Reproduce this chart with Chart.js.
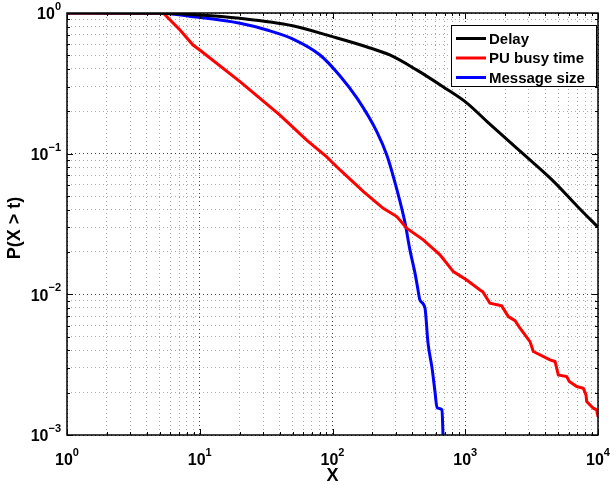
<!DOCTYPE html>
<html>
<head>
<meta charset="utf-8">
<script src="https://cdn.jsdelivr.net/npm/chart.js@4.4.1/dist/chart.umd.min.js"></script>
<style>
  body { margin: 0; background: #fff; }
  #wrap { width: 610px; height: 485px; }
</style>
</head>
<body>
<div id="wrap"><canvas id="chart"></canvas></div>
<script>
// series names
const seriesNames = ["Delay", "PU busy time", "Message size"];

// Delay CCDF
const delayX = [1, 5, 10, 20, 50, 100, 180, 270, 430, 680, 1030, 1460, 1924, 3074, 4584, 6950, 10000];
const delayY = [1, 0.995, 0.968, 0.917, 0.812, 0.679, 0.576, 0.503, 0.394, 0.299, 0.229, 0.169, 0.1336, 0.0902, 0.064, 0.0425, 0.030];

// PU busy time CCDF
const busyX = [1, 5.3, 7.1, 8.9, 10, 20.1, 40.2, 63.9, 90, 114, 171, 241, 305, 362, 483, 645, 813, 1026, 1291, 1353, 1535, 1882, 2110, 2371, 2585, 3074, 3256, 4350, 4745, 5025, 5808, 6080, 6915, 7750, 8120, 8220, 9220, 9770, 10000];
const busyY = [1, 1, 0.757, 0.592, 0.546, 0.325, 0.188, 0.125, 0.0952, 0.0766, 0.0537, 0.0409, 0.0357, 0.0295, 0.0244, 0.0191, 0.0145, 0.01265, 0.01074, 0.01045, 0.00865, 0.00828, 0.00695, 0.0065, 0.00574, 0.00461, 0.00392, 0.00342, 0.00333, 0.00267, 0.0026, 0.0024, 0.00221, 0.00215, 0.00193, 0.00173, 0.00155, 0.00151, 0.00135];

// Message size CCDF
const msgX = [1, 5, 8.9, 20.1, 32.1, 50.4, 80.5, 114, 153, 216, 258, 306, 352, 383, 418, 441, 456, 497, 524, 562, 592, 613, 668, 680];
const msgY = [1, 0.995, 0.941, 0.845, 0.757, 0.653, 0.503, 0.357, 0.248, 0.143, 0.0963, 0.0552, 0.0322, 0.0207, 0.0142, 0.0107, 0.0091, 0.0080, 0.00452, 0.0030, 0.00202, 0.00156, 0.00151, 0.001];

// decade exponents for the tick labels
const xDecades = [0, 1, 2, 3, 4];
const yDecades = [-3, -2, -1, 0];

const xTitle = "X";
const yTitle = "P(X > t)";
const colors = ["#000000", "#ff0000", "#0000ff"];

function toPoints(xs, ys) {
    return xs.map((v, i) => ({ x: v, y: ys[i] }));
}

function isDecade(v) {
    const l = Math.log10(v);
    return Math.abs(l - Math.round(l)) < 1e-9;
}

// all 1..9 x 10^k ticks between the first and last decade
function logTicks(decades) {
    const out = [];
    for (let i = 0; i < decades.length - 1; i++) {
        for (let m = 1; m < 10; m++) out.push({ value: m * Math.pow(10, decades[i]) });
    }
    out.push({ value: Math.pow(10, decades[decades.length - 1]) });
    return out;
}

// draws "10" with a raised exponent
function drawPower(ctx, exp, x, y, align) {
    const base = "10";
    const sup = String(exp).replace("-", "\u2212");
    ctx.font = "bold 16px 'Liberation Sans', Arial, sans-serif";
    const wb = ctx.measureText(base).width;
    ctx.font = "bold 11px 'Liberation Sans', Arial, sans-serif";
    const ws = ctx.measureText(sup).width;
    let left;
    if (align === "right") left = x - wb - ws;
    else left = x - (wb + ws) / 2;
    ctx.textAlign = "left";
    ctx.textBaseline = "middle";
    ctx.font = "bold 16px 'Liberation Sans', Arial, sans-serif";
    ctx.fillText(base, left, y + 2);
    ctx.font = "bold 11px 'Liberation Sans', Arial, sans-serif";
    ctx.fillText(sup, left + wb, y - 6);
}

const decor = {
    id: "decor",
    afterDraw(chart) {
        const { ctx, chartArea: a, scales: { x, y } } = chart;
        ctx.save();
        ctx.setLineDash([]);
        ctx.strokeStyle = "#000";
        ctx.lineWidth = 1;

        // inward tick marks on all four sides
        x.ticks.forEach(t => {
            const px = Math.round(x.getPixelForValue(t.value)) + 0.5;
            const len = isDecade(t.value) ? 6 : 3;
            ctx.beginPath();
            ctx.moveTo(px, a.bottom); ctx.lineTo(px, a.bottom - len);
            ctx.moveTo(px, a.top); ctx.lineTo(px, a.top + len);
            ctx.stroke();
        });
        y.ticks.forEach(t => {
            const py = Math.round(y.getPixelForValue(t.value)) + 0.5;
            const len = isDecade(t.value) ? 6 : 3;
            ctx.beginPath();
            ctx.moveTo(a.left, py); ctx.lineTo(a.left + len, py);
            ctx.moveTo(a.right, py); ctx.lineTo(a.right - len, py);
            ctx.stroke();
        });

        // axes box
        ctx.lineWidth = 1.5;
        ctx.strokeRect(a.left, a.top, a.right - a.left, a.bottom - a.top);

        // tick labels
        ctx.fillStyle = "#000";
        xDecades.forEach(e => drawPower(ctx, e, x.getPixelForValue(Math.pow(10, e)), a.bottom + 24, "center"));
        yDecades.forEach(e => drawPower(ctx, e, a.left - 6, y.getPixelForValue(Math.pow(10, e)), "right"));

        // axis titles
        ctx.textAlign = "center";
        ctx.textBaseline = "middle";
        ctx.font = "bold 18px 'Liberation Sans', Arial, sans-serif";
        ctx.fillText(xTitle, (a.left + a.right) / 2, a.bottom + 41);
        ctx.save();
        ctx.translate(15, (a.top + a.bottom) / 2 + 4);
        ctx.rotate(-Math.PI / 2);
        ctx.font = "bold 18px 'Liberation Sans', Arial, sans-serif";
        ctx.fillText(yTitle, 0, 0);
        ctx.restore();

        // legend box
        const lx = 451, ly = 25, lw = 145, lh = 61;
        ctx.fillStyle = "#fff";
        ctx.fillRect(lx, ly, lw, lh);
        ctx.lineWidth = 1;
        ctx.strokeStyle = "#000";
        ctx.strokeRect(lx + 0.5, ly + 0.5, lw, lh);
        ctx.font = "bold 15px 'Liberation Sans', Arial, sans-serif";
        ctx.textAlign = "left";
        chart.data.datasets.forEach((ds, i) => {
            const ry = ly + 13.5 + i * 19.5;
            ctx.strokeStyle = ds.borderColor;
            ctx.lineWidth = 3;
            ctx.beginPath();
            ctx.moveTo(lx + 5, ry); ctx.lineTo(lx + 35, ry);
            ctx.stroke();
            ctx.fillStyle = "#000";
            ctx.fillText(ds.label, lx + 38, ry + 1);
        });
        ctx.restore();
    }
};

function gridColor(c) {
    if (!c.tick) return "#999";
    return isDecade(c.tick.value) ? "#444" : "#aaa";
}

new Chart(document.getElementById("chart"), {
    type: "line",
    data: {
        datasets: [
            { label: seriesNames[0], data: toPoints(delayX, delayY), borderColor: colors[0], cubicInterpolationMode: "monotone" },
            { label: seriesNames[1], data: toPoints(busyX, busyY), borderColor: colors[1], tension: 0 },
            { label: seriesNames[2], data: toPoints(msgX, msgY), borderColor: colors[2], cubicInterpolationMode: "monotone" }
        ]
    },
    options: {
        responsive: true,
        maintainAspectRatio: false,
        animation: false,
        layout: { padding: { left: 67, right: 12, top: 13, bottom: 50 } },
        elements: {
            point: { radius: 0 },
            line: { borderWidth: 3, fill: false }
        },
        plugins: {
            legend: { display: false },
            tooltip: { enabled: false }
        },
        scales: {
            x: {
                type: "logarithmic",
                min: 1,
                max: 10000,
                afterBuildTicks: s => { s.ticks = logTicks(xDecades); },
                ticks: { display: false },
                grid: { drawTicks: false, color: gridColor, lineWidth: 1 },
                border: { display: false, dash: [1, 3] }
            },
            y: {
                type: "logarithmic",
                min: 0.001,
                max: 1,
                afterBuildTicks: s => { s.ticks = logTicks(yDecades); },
                ticks: { display: false },
                grid: { drawTicks: false, color: gridColor, lineWidth: 1 },
                border: { display: false, dash: [1, 3] }
            }
        }
    },
    plugins: [decor]
});
</script>
</body>
</html>
